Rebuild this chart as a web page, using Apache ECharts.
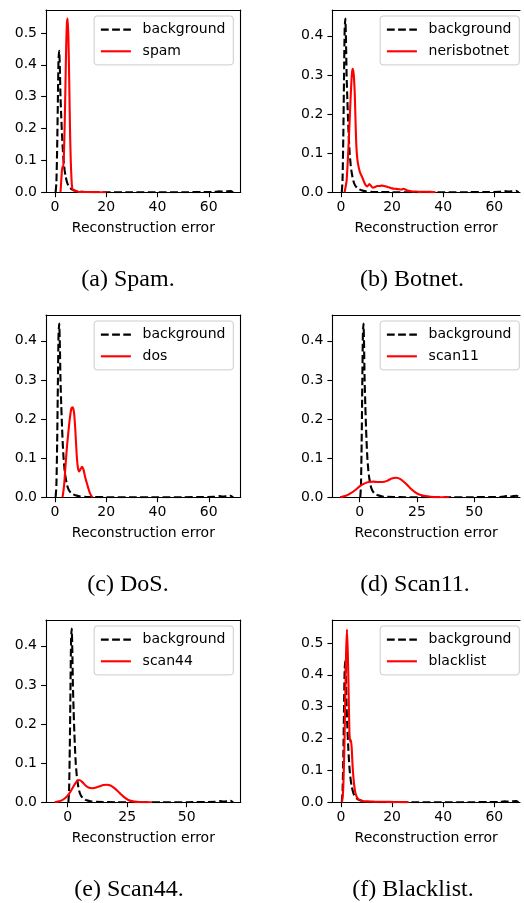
<!DOCTYPE html>
<html><head><meta charset="utf-8">
<script src="https://cdn.jsdelivr.net/npm/echarts@6/dist/echarts.min.js"></script>
<style>html,body{margin:0;padding:0;background:#fff}#c{width:524px;height:903px}</style>
</head><body><div id="c"></div>
<script>
// ---- data ----
const bgX = [0.3, 0.6, 0.9, 1.2, 1.45, 1.7, 1.95, 2.2, 2.5, 2.8, 3.1, 3.4, 3.8, 4.2, 4.8, 5.5, 6.5, 8, 10, 12, 15, 20, 30, 40, 50, 58, 62, 64, 65.5, 67, 68.5, 69.5];
const bgY = [0, 0.03, 0.14, 0.3, 0.42, 0.444, 0.39, 0.3, 0.235, 0.18, 0.135, 0.1, 0.07, 0.05, 0.03, 0.018, 0.01, 0.005, 0.002, 0.001, 0.0005, 0.0003, 0.0002, 0.0002, 0.0003, 0.0006, 0.001, 0.003, 0.002, 0.003, 0.004, 0];

const spamX = [2.2, 2.6, 2.9, 3.2, 3.5, 3.8, 4.1, 4.4, 4.7, 5.0, 5.3, 5.6, 5.9, 6.2, 6.5, 6.8, 7.3, 8.0, 9, 11, 14, 17, 20];
const spamY = [0, 0.05, 0.08, 0.075, 0.11, 0.2, 0.32, 0.45, 0.53, 0.545, 0.48, 0.35, 0.2, 0.1, 0.04, 0.012, 0.006, 0.005, 0.002, 0.001, 0.0005, 0.0003, 0];

const botX = [1.4, 2.2, 3.0, 3.5, 3.9, 4.3, 4.6, 5.0, 5.4, 5.7, 6.0, 6.4, 6.9, 7.5, 8.2, 9.0, 9.6, 10.3, 11.1, 11.8, 12.4, 13.2, 14.1, 15.0, 16.0, 17.0, 18.0, 19.0, 20.0, 21.3, 22.6, 23.5, 24.5, 25.5, 26.5, 28, 29.5, 31, 33, 35, 37];
const botY = [0, 0.03, 0.125, 0.2, 0.26, 0.305, 0.316, 0.3, 0.25, 0.18, 0.12, 0.085, 0.065, 0.05, 0.04, 0.027, 0.019, 0.015, 0.021, 0.016, 0.012, 0.013, 0.016, 0.016, 0.017, 0.016, 0.014, 0.012, 0.010, 0.009, 0.008, 0.007, 0.009, 0.006, 0.004, 0.002, 0.002, 0.001, 0.0015, 0.001, 0];

const dosX = [3.0, 3.6, 4.2, 4.8, 5.4, 6.0, 6.5, 7.0, 7.5, 8.0, 8.5, 9.0, 9.5, 10.0, 10.6, 11.2, 11.8, 12.4, 13.0, 13.6, 14.2, 14.8];
const dosY = [0, 0.03, 0.085, 0.135, 0.175, 0.21, 0.228, 0.23, 0.215, 0.17, 0.11, 0.075, 0.066, 0.072, 0.078, 0.07, 0.052, 0.038, 0.024, 0.012, 0.004, 0];

const scan11X = [-8.5, -6, -4, -2, 0, 2, 4, 6, 8, 10, 12, 14, 16, 18, 20, 22, 24, 26, 28, 31, 35, 39];
const scan11Y = [0, 0.004, 0.01, 0.018, 0.028, 0.035, 0.039, 0.040, 0.039, 0.039, 0.042, 0.048, 0.050, 0.046, 0.036, 0.024, 0.014, 0.007, 0.004, 0.0015, 0.0005, 0];

const scan44X = [-5.5, -4, -2.5, -1, 0.5, 2, 3.5, 4.7, 6, 7.5, 9, 10.5, 12, 13.5, 15, 16.5, 18, 19.5, 21, 22.5, 24, 25.5, 27, 29, 32, 35.5];
const scan44Y = [0, 0.002, 0.005, 0.011, 0.021, 0.036, 0.051, 0.057, 0.053, 0.043, 0.037, 0.036, 0.038, 0.041, 0.044, 0.045, 0.043, 0.037, 0.029, 0.020, 0.012, 0.006, 0.003, 0.001, 0.0003, 0];

const blackX = [0.4, 0.8, 1.1, 1.4, 1.7, 2.0, 2.35, 2.7, 3.0, 3.3, 3.6, 3.9, 4.2, 4.5, 4.9, 5.4, 6.0, 6.8, 7.6, 8.5, 10, 13, 17, 21, 26.5];
const blackY = [0, 0.03, 0.1, 0.2, 0.34, 0.47, 0.542, 0.46, 0.34, 0.22, 0.19, 0.195, 0.17, 0.12, 0.075, 0.04, 0.02, 0.01, 0.007, 0.004, 0.003, 0.002, 0.0015, 0.001, 0];

const xTicks20 = [0, 20, 40, 60];
const xTicks25 = [0, 25, 50];
const yTicks5 = [0, 0.1, 0.2, 0.3, 0.4, 0.5];
const yTicks4 = [0, 0.1, 0.2, 0.3, 0.4];
const seriesNames = ['spam', 'nerisbotnet', 'dos', 'scan11', 'scan44', 'blacklist'];
const captions = ['(a) Spam.', '(b) Botnet.', '(c) DoS.', '(d) Scan11.', '(e) Scan44.', '(f) Blacklist.'];
const axisTitle = 'Reconstruction error';
const bgName = 'background';

// ---- layout ----
const FONT = 'DejaVu Sans';
const panels = [
  {sx: spamX, sy: spamY, xmin: -3.45, xmax: 72.45, ymax: 0.572, xt: xTicks20, yt: yTicks5, left: 46, top: 10, w: 194.7, col: 0, capX: 128, capY: 280},
  {sx: botX, sy: botY, xmin: -3.4, xmax: 70.06, ymax: 0.466, xt: xTicks20, yt: yTicks4, left: 332.3, top: 10, w: 187.7, col: 1, capX: 412, capY: 280},
  {sx: dosX, sy: dosY, xmin: -3.45, xmax: 72.45, ymax: 0.466, xt: xTicks20, yt: yTicks4, left: 46, top: 315, w: 194.7, col: 0, capX: 128, capY: 585},
  {sx: scan11X, sy: scan11Y, xmin: -11.9, xmax: 69.96, ymax: 0.466, xt: xTicks25, yt: yTicks4, left: 332.3, top: 315, w: 187.7, col: 1, capX: 415, capY: 585},
  {sx: scan44X, sy: scan44Y, xmin: -9.1, xmax: 72.7, ymax: 0.466, xt: xTicks25, yt: yTicks4, left: 46, top: 620, w: 194.7, col: 0, capX: 129, capY: 890},
  {sx: blackX, sy: blackY, xmin: -3.4, xmax: 70.06, ymax: 0.572, xt: xTicks20, yt: yTicks5, left: 332.3, top: 620, w: 187.7, col: 1, capX: 413, capY: 890}
];
const H = 182.3;
const zip = (xs, ys) => xs.map((x, i) => [x, ys[i]]);
const spine = {show: true, onZero: false, lineStyle: {color: '#000', width: 1.1}};
const tickStyle = {color: '#000', width: 1.1};

const option = {animation: false, backgroundColor: '#fff', grid: [], xAxis: [], yAxis: [], series: [], legend: [], graphic: []};

panels.forEach((p, i) => {
  option.grid.push({left: p.left, top: p.top, width: p.w, height: H, containLabel: false});
  option.xAxis.push({
    type: 'value', gridIndex: i, min: p.xmin, max: p.xmax, position: 'bottom',
    axisLine: spine,
    axisTick: {show: true, customValues: p.xt, length: 4.9, lineStyle: tickStyle},
    axisLabel: {customValues: p.xt, margin: 8, fontSize: 14, fontFamily: FONT, color: '#000', formatter: v => String(v)},
    splitLine: {show: false},
    name: axisTitle, nameLocation: 'middle', nameGap: 29.5,
    nameTextStyle: {fontSize: 14, fontFamily: FONT, color: '#000'}
  });
  option.xAxis.push({
    type: 'value', gridIndex: i, min: p.xmin, max: p.xmax, position: 'top',
    axisLine: spine, axisTick: {show: false}, axisLabel: {show: false}, splitLine: {show: false}
  });
  option.yAxis.push({
    type: 'value', gridIndex: i, min: 0, max: p.ymax, position: 'left',
    axisLine: spine,
    axisTick: {show: true, customValues: p.yt, length: 4.9, lineStyle: tickStyle},
    axisLabel: {customValues: p.yt, margin: 9, fontSize: 14, fontFamily: FONT, color: '#000', formatter: v => v.toFixed(1)},
    splitLine: {show: false}
  });
  option.yAxis.push({
    type: 'value', gridIndex: i, min: 0, max: p.ymax, position: 'right',
    axisLine: Object.assign({}, spine, {show: p.col === 0}), axisTick: {show: false}, axisLabel: {show: false}, splitLine: {show: false}
  });
  option.series.push({
    name: bgName, type: 'line', xAxisIndex: 2 * i, yAxisIndex: 2 * i,
    data: zip(bgX, bgY), symbol: 'none', smooth: 0.2, silent: true,
    lineStyle: {color: '#000', width: 2.1, type: [7.8, 3.4]}, itemStyle: {color: '#000'}
  });
  option.series.push({
    name: seriesNames[i], type: 'line', xAxisIndex: 2 * i, yAxisIndex: 2 * i,
    data: zip(p.sx, p.sy), symbol: 'none', smooth: 0.2, silent: true,
    lineStyle: {color: '#ff0000', width: 2.1, type: 'solid'}, itemStyle: {color: '#ff0000'}
  });
  option.legend.push({
    data: [bgName, seriesNames[i]],
    right: p.col === 0 ? 290.7 : 4.7, top: p.top + 6,
    orient: 'vertical', itemWidth: 30, itemHeight: 14, itemGap: 5.7,
    padding: [5.6, 7.9, 5.6, 5.7],
    backgroundColor: 'rgba(255,255,255,0.8)', borderColor: '#cccccc', borderWidth: 1, borderRadius: 3,
    selectedMode: false,
    itemStyle: {opacity: 0},
    lineStyle: {width: 2.1, opacity: 1},
    textStyle: {fontSize: 14, fontFamily: FONT, color: '#000', lineHeight: 16, padding: [0, 0, 0, 6.7]}
  });
  option.graphic.push({
    type: 'text', x: p.capX, y: p.capY,
    style: {text: captions[i], fill: '#000', font: '24px "Liberation Serif"', align: 'center', verticalAlign: 'middle'}
  });
});

const chart = echarts.init(document.getElementById('c'), null, {renderer: 'canvas'});
chart.setOption(option);
</script></body></html>
